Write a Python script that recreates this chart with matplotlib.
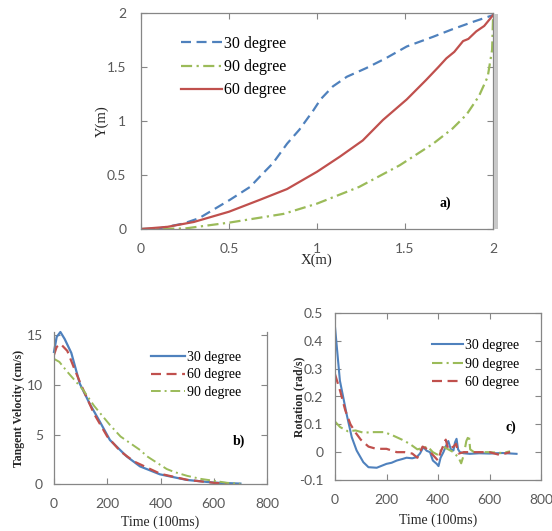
import numpy as np
import matplotlib
matplotlib.use("Agg")
import matplotlib.pyplot as plt
from matplotlib.patches import Rectangle

# ---------- a) trajectories ----------
x30 = [0, 0.1, 0.24, 0.33, 0.505, 0.62, 0.69, 0.75, 0.83, 0.9, 0.98, 1.02, 1.09, 1.17, 1.28, 1.39, 1.51, 1.66, 1.77, 1.89, 2.0]
y30 = [0, 0.005, 0.05, 0.1, 0.27, 0.39, 0.51, 0.61, 0.79, 0.92, 1.1, 1.2, 1.32, 1.41, 1.49, 1.58, 1.69, 1.78, 1.85, 1.92, 1.98]
x60 = [0, 0.15, 0.3, 0.5, 0.675, 0.83, 1.0, 1.13, 1.26, 1.375, 1.51, 1.62, 1.69, 1.735, 1.78, 1.83, 1.86, 1.905, 1.95, 2.0]
y60 = [0, 0.02, 0.065, 0.16, 0.27, 0.37, 0.53, 0.67, 0.82, 1.01, 1.2, 1.38, 1.5, 1.58, 1.64, 1.74, 1.76, 1.83, 1.88, 1.98]
x90 = [0, 0.25, 0.505, 0.81, 1.0, 1.24, 1.47, 1.66, 1.77, 1.85, 1.92, 1.97, 1.995, 2.0, 2.0]
y90 = [0, 0.005, 0.06, 0.14, 0.235, 0.39, 0.59, 0.79, 0.93, 1.06, 1.23, 1.41, 1.66, 1.94, 1.98]

# ---------- b) tangent velocity ----------
tv_t30 = [0, 10, 24, 40, 65, 97, 134, 172, 210, 273, 323, 398, 499, 600, 700]
tv_v30 = [13.3, 14.8, 15.3, 14.6, 13.2, 10.1, 8.1, 6.3, 4.45, 2.8, 1.8, 1.0, 0.44, 0.17, 0.07]
tv_t60 = [0, 10, 25, 50, 75, 100, 150, 200, 250, 300, 400, 500, 600, 650]
tv_v60 = [13.0, 13.8, 14.1, 13.4, 11.7, 10.1, 7.1, 4.8, 3.3, 2.3, 1.05, 0.45, 0.15, 0.05]
tv_t90 = [0, 20, 50, 109, 150, 210, 250, 323, 350, 423, 450, 500, 550, 600, 650, 700]
tv_v90 = [12.6, 12.3, 11.3, 9.5, 7.9, 5.96, 4.8, 3.45, 2.8, 1.54, 1.25, 0.85, 0.55, 0.35, 0.15, 0.05]

# ---------- c) rotation ----------
rot_t30 = [0, 19, 45, 65, 84, 110, 130, 162, 200, 220, 240, 260, 278, 300, 317, 330, 343, 356, 369, 380, 395, 402,
           410, 421, 430, 440, 450, 460, 466, 472, 478, 485, 500, 524, 560, 600, 650, 705]
rot_r30 = [0.45, 0.257, 0.137, 0.054, 0.006, -0.036, -0.054, -0.056, -0.042, -0.038, -0.03, -0.025, -0.02, -0.022, -0.018, -0.005,
           0.018, 0.005, 0.0, -0.03, -0.042, -0.05, -0.02, 0.0, 0.02, 0.04, 0.01, 0.006, 0.035, 0.048, 0.01, 0.0,
           -0.004, -0.006, -0.004, -0.005, -0.003, -0.006]
rot_t60 = [0, 20, 40, 60, 80, 100, 130, 160, 200, 240, 270, 300, 320, 340, 360, 380, 400, 410, 430, 440, 460, 470,
           480, 500, 550, 600, 640, 680]
rot_r60 = [0.28, 0.22, 0.15, 0.1, 0.07, 0.045, 0.02, 0.012, 0.012, 0.0, 0.0, -0.005, -0.02, 0.02, 0.01, -0.01, -0.03,
           0.0, 0.045, 0.01, 0.02, 0.03, -0.005, 0.0, 0.0, 0.0, -0.01, 0.0]
rot_t90 = [0, 20, 50, 80, 110, 150, 190, 220, 260, 290, 320, 340, 360, 380, 400, 420, 440, 460, 480, 490, 500,
           510, 520, 525, 540, 600, 650, 680]
rot_r90 = [0.11, 0.09, 0.075, 0.078, 0.07, 0.072, 0.072, 0.062, 0.045, 0.03, 0.01, 0.015, 0.02, 0.0, -0.01, 0.02,
           0.01, 0.0, -0.02, -0.04, -0.01, 0.04, 0.06, 0.01, 0.0, 0.0, -0.003, 0.003]

BLUE = "#4F81BD"
RED = "#C0504D"
GREEN = "#9BBB59"
DASH = (4.5, 2.5)
DASHDOT = (5, 2, 1, 2)
TICK_FONT = "Lato"
SERIF = "Liberation Serif"

fig = plt.figure(figsize=(5.52, 5.31), dpi=100)


def style_axes(ax, xpad, ypad, top=True):
    for name, sp in ax.spines.items():
        sp.set_color("#868686")
        sp.set_linewidth(0.9)
    ax.spines["top"].set_visible(top)
    ax.tick_params(direction="in", length=4, width=0.8, color="#868686",
                   top=top, right=True, labelsize=10, labelcolor="#595959")
    ax.tick_params(axis="x", pad=xpad)
    ax.tick_params(axis="y", pad=ypad)
    for lab in ax.get_xticklabels() + ax.get_yticklabels():
        lab.set_fontfamily(TICK_FONT)


# a) paths in the X-Y plane
ax_a = fig.add_axes([141 / 552, 1 - 229 / 531, 352 / 552, 216 / 531])
la1, = ax_a.plot(x30, y30, color=BLUE, lw=1.6, dashes=DASH)
la2, = ax_a.plot(x90, y90, color=GREEN, lw=1.6, dashes=DASHDOT)
la3, = ax_a.plot(x60, y60, color=RED, lw=1.6)
ax_a.set_xlim(0, 2)
ax_a.set_ylim(0, 2)
ax_a.set_xticks([0, 0.5, 1, 1.5, 2])
ax_a.set_xticklabels(["0", "0.5", "1", "1.5", "2"])
ax_a.set_yticks([0, 0.5, 1, 1.5, 2])
ax_a.set_yticklabels(["0", "0.5", "1", "1.5", "2"])
style_axes(ax_a, xpad=10, ypad=10.5)
ax_a.set_xlabel("X(m)", family=SERIF, fontsize=10.5, color="#262626")
ax_a.set_ylabel("Y(m)", family=SERIF, fontsize=10.5, color="#262626")
ax_a.xaxis.set_label_coords(0.5, -0.113)
ax_a.yaxis.set_label_coords(-0.091, 0.5)
ax_a.legend([la1, la2, la3], ["30 degree", "90 degree", "60 degree"], loc="upper left",
            bbox_to_anchor=(0.0715, 0.96), frameon=False, handlelength=2.6, handletextpad=0.12,
            labelspacing=0.45, prop={"family": SERIF, "size": 11.5})
ax_a.text(1.73, 0.24, "a)", family=SERIF, fontsize=10, fontweight="bold", ha="center", va="center")

# b) tangent velocity
ax_b = fig.add_axes([54 / 552, 1 - 484.3 / 531, 213 / 552, 152.3 / 531])
lb1, = ax_b.plot(tv_t30, tv_v30, color=BLUE, lw=1.6, clip_on=False)
lb2, = ax_b.plot(tv_t60, tv_v60, color=RED, lw=1.6, dashes=DASH)
lb3, = ax_b.plot(tv_t90, tv_v90, color=GREEN, lw=1.4, dashes=DASHDOT)
ax_b.set_xlim(0, 800)
ax_b.set_ylim(0, 15.3)
ax_b.set_xticks([0, 200, 400, 600, 800])
ax_b.set_yticks([0, 5, 10, 15])
style_axes(ax_b, xpad=10, ypad=8, top=False)
ax_b.set_xlabel("Time (100ms)", family=SERIF, fontsize=10, color="#262626")
ax_b.set_ylabel("Tangent Velocity (cm/s)", family=SERIF, fontsize=8.5, fontweight="bold", color="#262626")
ax_b.xaxis.set_label_coords(0.5, -0.205)
ax_b.yaxis.set_label_coords(-0.136, 0.5)
ax_b.legend([lb1, lb2, lb3], ["30 degree", "60 degree", "90 degree"], loc="upper left",
            bbox_to_anchor=(0.397, 0.96), frameon=False, handlelength=2.45, handletextpad=0.12,
            labelspacing=0.35, prop={"family": SERIF, "size": 10})
ax_b.text(694, 4.35, "b)", family=SERIF, fontsize=10, fontweight="bold", ha="center", va="center")

# c) rotation rate
ax_c = fig.add_axes([335 / 552, 1 - 480 / 531, 206 / 552, 167 / 531])
lc1, = ax_c.plot(rot_t30, rot_r30, color=BLUE, lw=1.5)
lc2, = ax_c.plot(rot_t90, rot_r90, color=GREEN, lw=1.5, dashes=DASHDOT)
lc3, = ax_c.plot(rot_t60, rot_r60, color=RED, lw=1.6, dashes=DASH)
ax_c.set_xlim(0, 800)
ax_c.set_ylim(-0.1, 0.5)
ax_c.set_xticks([0, 200, 400, 600, 800])
ax_c.set_yticks([-0.1, 0, 0.1, 0.2, 0.3, 0.4, 0.5])
ax_c.set_yticklabels(["-0.1", "0", "0.1", "0.2", "0.3", "0.4", "0.5"])
style_axes(ax_c, xpad=10, ypad=8.5)
ax_c.set_xlabel("Time (100ms)", family=SERIF, fontsize=10, color="#262626")
ax_c.set_ylabel("Rotation (rad/s)", family=SERIF, fontsize=8.5, fontweight="bold", color="#262626")
ax_c.xaxis.set_label_coords(0.5, -0.198)
ax_c.yaxis.set_label_coords(-0.146, 0.5)
ax_c.legend([lc1, lc2, lc3], ["30 degree", "90 degree", "60 degree"], loc="upper left",
            bbox_to_anchor=(0.411, 0.918), frameon=False, handlelength=2.25, handletextpad=0.12,
            labelspacing=0.4, prop={"family": SERIF, "size": 10})
ax_c.text(683, 0.0885, "c)", family=SERIF, fontsize=10, fontweight="bold", ha="center", va="center")

# trimmed right edge of the top panel
fig.patches.append(Rectangle((497.5 / 552, 1 - 262 / 531), 60 / 552, 262 / 531, transform=fig.transFigure,
                             facecolor="white", edgecolor="none", zorder=5))
fig.patches.append(Rectangle((493.5 / 552, 1 - 229 / 531), 4 / 552, 215 / 531, transform=fig.transFigure,
                             facecolor="#c8c8c8", edgecolor="none", zorder=6))

fig.savefig("out.png", dpi=100)
